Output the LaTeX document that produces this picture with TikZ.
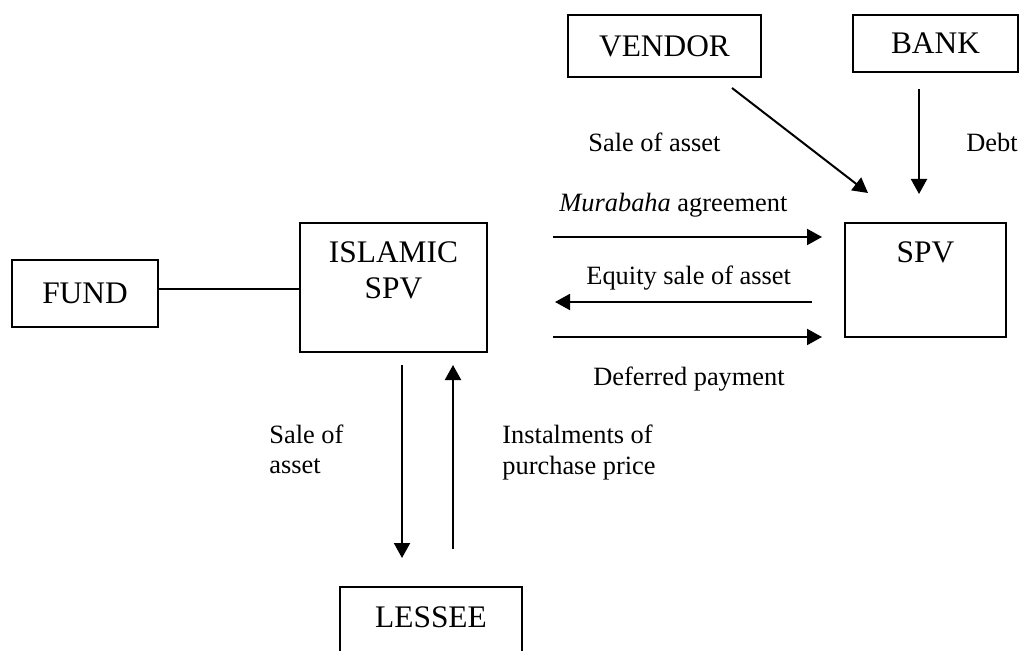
\documentclass[tikz,border=0pt]{standalone}
\usepackage{fontspec}
\setmainfont{Liberation Serif}
\usetikzlibrary{arrows.meta}
\newcommand{\boxfont}{\fontsize{15.7}{18}\selectfont}
\newcommand{\lblfont}{\fontsize{13.2}{15}\selectfont}
\begin{document}
\begin{tikzpicture}[x=0.5pt,y=-0.5pt,
  box/.style={draw, line width=0.65pt, inner sep=0pt, font=\boxfont},
  boxtext/.style={inner sep=0pt, anchor=base, font=\boxfont},
  lbl/.style={inner sep=0pt, anchor=base west, font=\lblfont},
  flow/.style={line width=1pt, -{Triangle[length=7.5pt,width=8pt]}}]
\useasboundingbox (0,0) rectangle (1020,651);
\clip (0,0) rectangle (1020,651);

% parties
\node[box, minimum width=73pt, minimum height=33.5pt] (fund) at (85,293.5) {FUND};
\node[box, minimum width=93.5pt, minimum height=64.5pt] (isl) at (393.5,287.5) {};
\node[boxtext] (islA) at (393.5,263) {ISLAMIC};
\node[boxtext] (islB) at (393.5,299) {SPV};
\node[box, minimum width=80.5pt, minimum height=57pt] (spv) at (925.5,280) {};
\node[boxtext] (spvT) at (925.5,263) {SPV};
\node[box, minimum width=96.5pt, minimum height=31pt] (vendor) at (664.5,46) {VENDOR};
\node[box, minimum width=82.5pt, minimum height=28.5pt] (bank) at (935.5,43.5) {BANK};
\node[box, minimum width=91pt, minimum height=41.5pt] (lessee) at (431,628.5) {};
\node[boxtext] (lesseeT) at (431,627) {LESSEE};

% arrow end points
\coordinate (vA) at (732,88);   \coordinate (vB) at (868,193);
\coordinate (bA) at (919,89);   \coordinate (bB) at (919,194);
\coordinate (m1A) at (553,237); \coordinate (m1B) at (822,237);
\coordinate (m2A) at (812,302); \coordinate (m2B) at (555,302);
\coordinate (m3A) at (553,337); \coordinate (m3B) at (822,337);
\coordinate (dA) at (402,365);  \coordinate (dB) at (402,558);
\coordinate (uA) at (453,549);  \coordinate (uB) at (453,365);

% connectors
\draw[line width=0.65pt] ([yshift=2.25pt]fund.east) -- ([yshift=2.25pt]fund.east -| isl.west);
\draw[flow] (vA) -- (vB);
\draw[flow] (bA) -- (bB);
\draw[flow] (m1A) -- (m1B);
\draw[flow] (m2A) -- (m2B);
\draw[flow] (m3A) -- (m3B);
\draw[flow] (dA) -- (dB);
\draw[flow] (uA) -- (uB);

% labels
\node[lbl] (l1) at (588,152) {Sale of asset};
\node[lbl] (l2) at (966,152) {Debt};
\node[lbl] (l3) at (559,212) {\textit{Murabaha} agreement};
\node[lbl] (l4) at (586,285) {Equity sale of asset};
\node[lbl] (l5) at (593,386) {Deferred payment};
\node[lbl] (l6a) at (269,443) {Sale of};
\node[lbl] (l6b) at (269,473) {asset};
\node[lbl] (l7a) at (502,443) {Instalments of};
\node[lbl] (l7b) at (502,474) {purchase price};
\end{tikzpicture}
\end{document}
